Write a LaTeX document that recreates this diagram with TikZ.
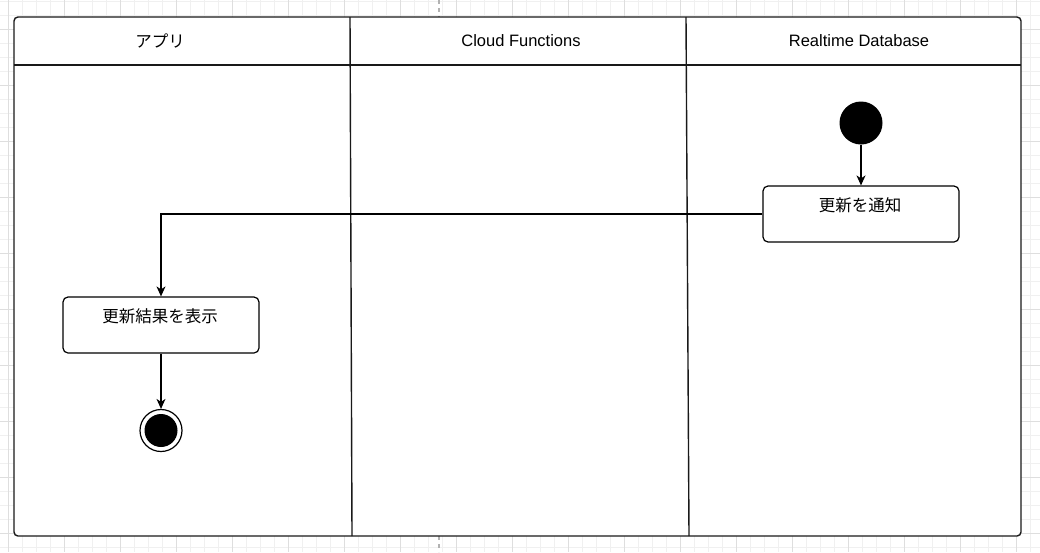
\documentclass[tikz,border=0pt]{standalone}
\usepackage{fontspec}
\setmainfont{Liberation Sans}
\newfontfamily\jp{Noto Sans CJK JP}
\usetikzlibrary{arrows.meta}
\begin{document}
\begin{tikzpicture}[x=1pt,y=-1pt,
  lane/.style={draw=black!90,line width=1.4pt},
  hdr/.style={font=\fontsize{16.5}{18}\selectfont,inner sep=0pt},
  jtxt/.style={font=\jp\fontsize{16.5}{18}\selectfont,inner sep=0pt},
  actbox/.style={draw,line width=1.2pt,rounded corners=5pt,minimum width=196pt,minimum height=56pt,inner sep=0pt,fill=white},
  flow/.style={draw,line width=1.3pt,-{Stealth[length=10pt,width=9pt,inset=3pt]}},
]
\useasboundingbox (0,0) rectangle (1040,552);
\fill[white] (0,0) rectangle (1040,552);
% grid
\foreach \x in {8,22,...,1040} \draw[black!6,line width=0.8pt] (\x,0) -- (\x,552);
\foreach \y in {1,15,...,552} \draw[black!6,line width=0.8pt] (0,\y) -- (1040,\y);
\foreach \x in {8,64,...,1040} \draw[black!13,line width=0.8pt] (\x,0) -- (\x,552);
\foreach \y in {29,85,...,552} \draw[black!13,line width=0.8pt] (0,\y) -- (1040,\y);
\draw[black!30,line width=1.2pt,dash pattern=on 4pt off 4pt] (439,0) -- (439,552);
% pool
\draw[lane,fill=white,rounded corners=4pt] (14,17) rectangle (1021,536);
\draw[lane] (14,65) -- (1021,65);
\draw[lane] (350,17) -- (352,536);
\draw[lane] (686,17) -- (689,536);
\node[jtxt] (h1) at (160,41) {アプリ};
\node[hdr] (h2) at (521,41) {Cloud Functions};
\node[hdr] (h3) at (859,41) {Realtime Database};
% nodes
\node[circle,fill=black,minimum size=43pt,inner sep=0pt] (start) at (861,123) {};
\node[actbox] (notify) at (861,214) {};
\node[jtxt] (notifyt) at (860,205) {更新を通知};
\node[actbox] (show) at (161,325) {};
\node[jtxt] (showt) at (160,316) {更新結果を表示};
\node[circle,draw,line width=1.2pt,fill=white,minimum size=42pt,inner sep=0pt] (end) at (161,430.5) {};
\node[circle,fill=black,minimum size=33pt,inner sep=0pt] (endin) at (end.center) {};
% connectors
\draw[flow] (start) -- (notify.north);
\draw[flow] (notify.west) -| (show.north);
\draw[flow] (show.south) -- (end.north);
\end{tikzpicture}
\end{document}
